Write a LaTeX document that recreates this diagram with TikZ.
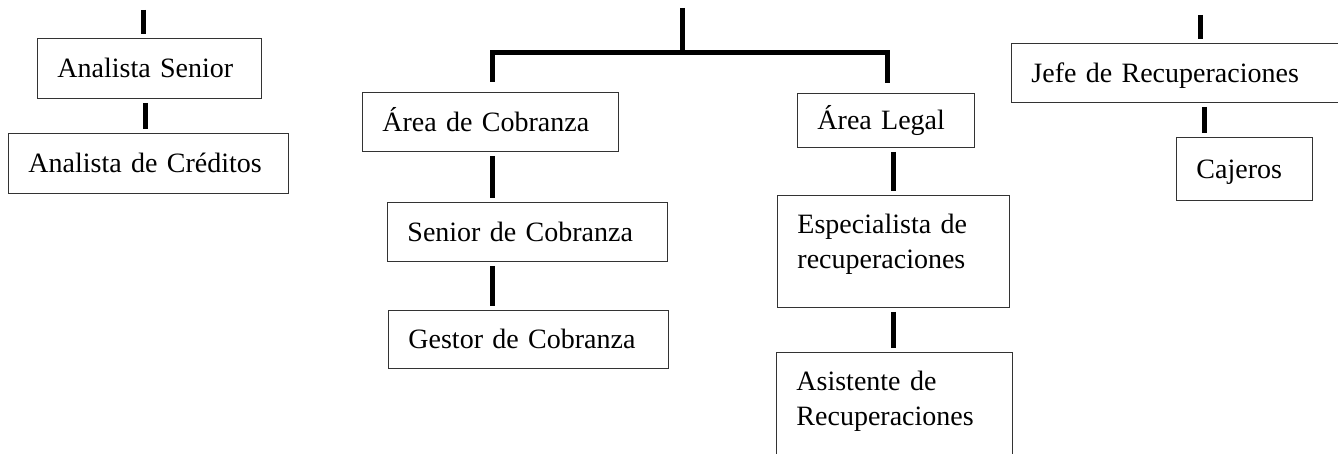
\documentclass[tikz,border=0pt]{standalone}
\usepackage{fontspec}
\setmainfont{Liberation Serif}
\usepackage{tikz}
\usetikzlibrary{calc,positioning}

\begin{document}
\begin{tikzpicture}[x=1pt, y=1pt,
    box_style/.style={draw=black!80, line width=0.9pt, anchor=north west, align=left,
        inner xsep=20pt, inner ysep=0pt, font=\fontsize{28}{35}\selectfont,
        text height=19pt, text depth=0pt},
    box2_style/.style={box_style, text height=20pt, text depth=56pt},
    link_style/.style={draw=black, line width=5pt, shorten >=4pt, shorten <=4pt}]

	\useasboundingbox (0,0) rectangle (1338,-454);

	\node[box_style, text width=184pt, minimum height=60pt] (asen) at (37,-38) {Analista Senior};
	\node[box_style, text width=240pt, minimum height=60pt] (acred) at (8,-133) {Analista de Créditos};

	\node[box_style, text width=216pt, minimum height=59pt] (acob) at (362,-92) {Área de Cobranza};
	\node[box_style, text width=137pt, minimum height=54pt] (alegal) at (797,-93) {Área Legal};
	\node[box_style, text width=240pt, minimum height=59pt] (scob) at (387,-202) {Senior de Cobranza};
	\node[box_style, text width=240pt, minimum height=58pt] (gcob) at (388,-310) {Gestor de Cobranza};
	\node[box2_style, text width=192pt, minimum height=112pt] (esp) at (777,-195) {Especialista de\\recuperaciones};
	\node[box2_style, text width=196pt, minimum height=112pt] (asis) at (776,-352) {Asistente de\\Recuperaciones};

	\node[box_style, text width=300pt, minimum height=59pt] (jefe) at (1011,-43) {Jefe de Recuperaciones};
	\node[box_style, text width=96pt, minimum height=63pt] (caj) at (1176,-137) {Cajeros};

	\coordinate (t1) at (143,-6);
	\coordinate (t2) at (682,-4);
	\coordinate (hub) at (682,-53);
	\coordinate (t3) at (1200,-11);

	\draw[link_style] (t1) -- (t1 |- asen.north);
	\draw[link_style] ([xshift=-4pt]asen.south) -- ([xshift=-4pt]asen.south |- acred.north);

	\draw[link_style, shorten >=0pt] (t2) -- (hub);
	\draw[link_style, shorten <=10pt, shorten >=10pt] ([xshift=2pt]acob.north) |- (hub) -| ([xshift=1.5pt]alegal.north);
	\draw[link_style] ([xshift=2pt]acob.south) -- ([xshift=2pt]acob.south |- scob.north);
	\draw[link_style] ([xshift=2pt]scob.south -| acob.south) -- ([xshift=2pt]gcob.north -| acob.south);
	\draw[link_style] (alegal.south -| esp.north) -- (esp.north);
	\draw[link_style] (esp.south) -- (esp.south |- asis.north);

	\draw[link_style] (t3) -- (t3 |- jefe.north);
	\draw[link_style] ([xshift=4pt]jefe.south -| t3) -- ([xshift=4pt]caj.north -| t3);
\end{tikzpicture}
\end{document}
